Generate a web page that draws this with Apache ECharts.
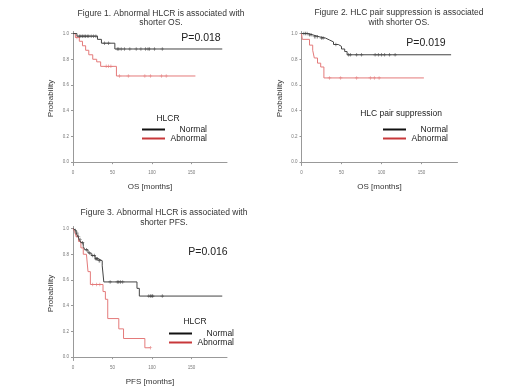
<!DOCTYPE html>
<html>
<head>
<meta charset="utf-8">
<script src="https://cdn.jsdelivr.net/npm/echarts@6/dist/echarts.min.js"></script>
<style>
html, body { margin: 0; padding: 0; background: #fff; }
#chart { width: 520px; height: 390px; }
</style>
</head>
<body>
<div id="chart"></div>
<script>
// Kaplan-Meier steps [months, survival] and censor marks
var os1Normal = [[0,1],[5,0.98],[31,0.955],[36,0.925],[53,0.88],[189,0.88]];
var os1NormalCens = [[8,0.98],[10,0.98],[12,0.98],[14,0.98],[16,0.98],[18,0.98],[20,0.98],[23,0.98],[26,0.98],[29,0.98],
    [40,0.925],[45,0.925],[56,0.88],[58,0.88],[61,0.88],[65,0.88],[72,0.88],[80,0.88],[86,0.88],[92,0.88],[95,0.88],[97,0.88],[103,0.88],[113,0.88]];
var os1Abnormal = [[0,1],[3,0.97],[8,0.94],[12,0.905],[16,0.87],[20,0.835],[25,0.8],[30,0.78],[35,0.745],[55,0.67],[155,0.67]];
var os1AbnormalCens = [[5,0.97],[42,0.745],[45,0.745],[48,0.745],[59,0.67],[70,0.67],[91,0.67],[98,0.67],[112,0.67],[118,0.67]];

var os2Normal = [[0,1],[8,0.99],[14,0.975],[22,0.965],[30,0.95],[35,0.935],[40,0.915],[46,0.9],[50,0.88],[54,0.86],[57,0.835],[187,0.835]];
var os2NormalCens = [[3,1],[5,1],[7,1],[10,0.99],[12,0.99],[16,0.975],[18,0.975],[20,0.975],[25,0.965],[27,0.965],[43,0.915],
    [59,0.835],[61,0.835],[69,0.835],[75,0.835],[92,0.835],[96,0.835],[100,0.835],[104,0.835],[110,0.835],[117,0.835]];
var os2Abnormal = [[0,1],[1,0.955],[10,0.91],[14,0.87],[16,0.81],[20,0.77],[24,0.74],[28,0.655],[153,0.655]];
var os2AbnormalCens = [[35,0.655],[49,0.655],[69,0.655],[86,0.655],[91,0.655],[97,0.655]];

var pfsNormal = [[0,1],[2,0.985],[4,0.965],[6,0.94],[8,0.915],[10,0.89],[13,0.86],[15,0.835],[19,0.81],[23,0.79],[28,0.765],[32,0.75],
    [37,0.71],[39,0.585],[81,0.535],[84,0.475],[189,0.475]];
var pfsNormalCens = [[3,0.985],[5,0.965],[7,0.94],[9,0.915],[12,0.89],[17,0.835],[21,0.81],[25,0.79],[27,0.79],[29,0.765],[30,0.765],
    [31,0.765],[33,0.75],[34,0.75],[47,0.585],[56,0.585],[58,0.585],[60,0.585],[63,0.585],[96,0.475],[98,0.475],[100,0.475],[101,0.475],[113,0.475]];
var pfsAbnormal = [[0,1],[2,0.975],[4,0.94],[7,0.9],[10,0.85],[13,0.8],[17,0.785],[19,0.665],[22,0.565],[38,0.51],[41,0.45],[44,0.3],
    [58,0.22],[64,0.145],[91,0.073],[98,0.073]];
var pfsAbnormalCens = [[5,0.94],[25,0.565],[30,0.565],[34,0.565],[98,0.073]];

var xTicks = [0, 50, 100, 150];
var yTicks = [0, 0.2, 0.4, 0.6, 0.8, 1.0];
var groupNames = ['Normal', 'Abnormal'];

var titles = ['Figure 1. Abnormal HLCR is associated with\nshorter OS.',
    'Figure 2. HLC pair suppression is associated\nwith shorter OS.',
    'Figure 3. Abnormal HLCR is associated with\nshorter PFS.'];
var pValues = ['P=0.018', 'P=0.019', 'P=0.016'];
var legendTitles = ['HLCR', 'HLC pair suppression', 'HLCR'];
var xNames = ['OS [months]', 'OS [months]', 'PFS [months]'];

var font = '"Liberation Sans", Arial, sans-serif';
var normalColor = '#444';
var abnormalColor = '#e47a7a';
var plus = 'path://M4,0H6V4H10V6H6V10H4V6H0V4H4Z';

var grids = [
    {left: 73, top: 31.5, width: 154, height: 134},
    {left: 301.5, top: 31.5, width: 156, height: 134},
    {left: 73, top: 226.5, width: 154, height: 134}
];

var xAxes = [], yAxes = [], series = [], legends = [], graphics = [];
var curves = [
    [os1Normal, os1NormalCens, os1Abnormal, os1AbnormalCens],
    [os2Normal, os2NormalCens, os2Abnormal, os2AbnormalCens],
    [pfsNormal, pfsNormalCens, pfsAbnormal, pfsAbnormalCens]
];

for (var i = 0; i < 3; i++) {
    xAxes.push({
        gridIndex: i, type: 'value', min: 0, max: 195,
        name: xNames[i], nameLocation: 'middle', nameGap: 17,
        nameTextStyle: {fontFamily: font, fontSize: 8, color: '#333'},
        axisLine: {lineStyle: {color: '#999', width: 1}},
        axisTick: {length: 2, lineStyle: {color: '#999'}, customValues: xTicks},
        axisLabel: {fontSize: 4.5, color: '#777', margin: 5, fontFamily: font, customValues: xTicks},
        splitLine: {show: false}
    });
    yAxes.push({
        gridIndex: i, type: 'value', min: -0.026, max: 1.016,
        name: 'Probability', nameLocation: 'middle', nameGap: 18,
        nameTextStyle: {fontFamily: font, fontSize: 8, color: '#333'},
        axisLine: {show: true, lineStyle: {color: '#999', width: 1}},
        axisTick: {show: true, length: 2, lineStyle: {color: '#999'}, customValues: yTicks},
        axisLabel: {fontSize: 4.5, color: '#777', margin: 4, fontFamily: font, customValues: yTicks,
            formatter: function (v) { return v.toFixed(1); }},
        splitLine: {show: false}
    });
    var c = curves[i];
    series.push({name: 'Normal', type: 'line', step: 'end', xAxisIndex: i, yAxisIndex: i, data: c[0],
        symbol: 'none', color: normalColor, lineStyle: {width: 1}, silent: true, z: 3});
    series.push({name: 'Normal censored ' + i, type: 'scatter', xAxisIndex: i, yAxisIndex: i, data: c[1],
        symbol: plus, symbolSize: 3.5, itemStyle: {color: normalColor}, silent: true, z: 3});
    series.push({name: 'Abnormal', type: 'line', step: 'end', xAxisIndex: i, yAxisIndex: i, data: c[2],
        symbol: 'none', color: abnormalColor, lineStyle: {width: 1}, silent: true, z: 2});
    series.push({name: 'Abnormal censored ' + i, type: 'scatter', xAxisIndex: i, yAxisIndex: i, data: c[3],
        symbol: plus, symbolSize: 3.5, itemStyle: {color: abnormalColor}, silent: true, z: 2});
}

var legendPos = [[142, 125], [383, 125], [169, 329]];
var legendTitlePos = [[168, 118.3], [401, 114], [195, 322]];
for (i = 0; i < 3; i++) {
    legends.push({
        orient: 'vertical', left: legendPos[i][0], top: legendPos[i][1], padding: 0,
        itemWidth: 23, itemHeight: 2, itemGap: 0, icon: 'rect', selectedMode: false,
        data: [{name: groupNames[0], itemStyle: {color: '#111'}}, {name: groupNames[1], itemStyle: {color: '#c8383a'}}],
        formatter: function (name) { return '{t|' + name + '}'; },
        textStyle: {
            rich: {t: {width: 37, align: 'right', fontSize: 8.5, lineHeight: 8.5, fontFamily: font, color: '#222'}}
        }
    });
    graphics.push({type: 'text', x: legendTitlePos[i][0], y: legendTitlePos[i][1],
        style: {text: legendTitles[i], font: '8.5px ' + font, fill: '#222', align: 'center', verticalAlign: 'middle'}});
}

var titlePos = [[161, 18], [399, 17.7], [164, 217.8]];
var pPos = [[201, 38.5], [426, 42.7], [208, 252.3]];
for (i = 0; i < 3; i++) {
    graphics.push({type: 'text', x: titlePos[i][0], y: titlePos[i][1],
        style: {text: titles[i], font: '8.5px ' + font, lineHeight: 9.5, fill: '#333', align: 'center', verticalAlign: 'middle'}});
    graphics.push({type: 'text', x: pPos[i][0], y: pPos[i][1],
        style: {text: pValues[i], font: '10.5px ' + font, fill: '#222', align: 'center', verticalAlign: 'middle'}});
}

var chart = echarts.init(document.getElementById('chart'));
chart.setOption({
    animation: false,
    backgroundColor: '#fff',
    grid: grids,
    xAxis: xAxes,
    yAxis: yAxes,
    legend: legends,
    graphic: graphics,
    series: series
});
</script>
</body>
</html>
